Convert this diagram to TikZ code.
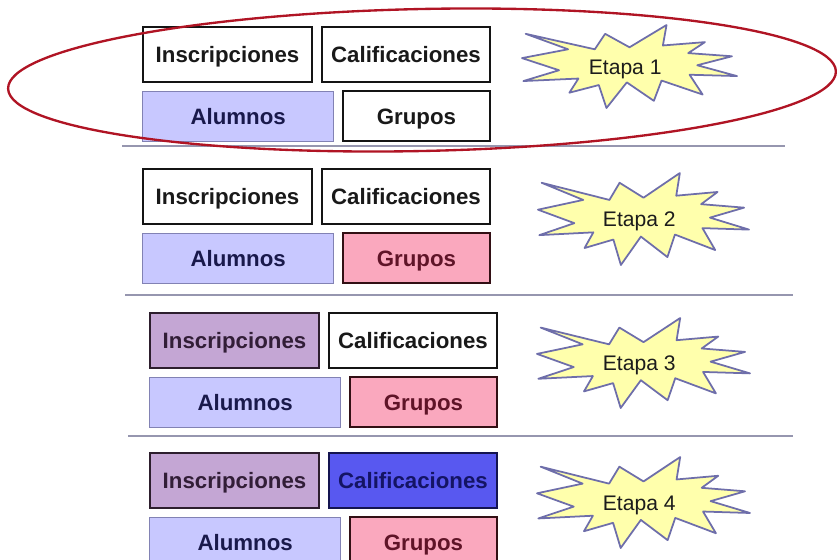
\documentclass[tikz,border=0pt]{standalone}
\usepackage{fontspec}
\setmainfont{Liberation Sans}
\usepackage{xcolor}
\usepackage{tikz}
\usetikzlibrary{positioning}
\definecolor{figink}{RGB}{28,28,28}
\definecolor{blancofill}{RGB}{255,255,255}
\definecolor{blancoline}{RGB}{20,20,20}
\definecolor{blancoink}{RGB}{25,25,25}
\definecolor{alumnofill}{RGB}{200,200,255}
\definecolor{alumnoline}{RGB}{130,130,180}
\definecolor{alumnoink}{RGB}{25,25,75}
\definecolor{grupofill}{RGB}{250,168,190}
\definecolor{grupoline}{RGB}{50,15,20}
\definecolor{grupoink}{RGB}{95,20,40}
\definecolor{inscrfill}{RGB}{196,166,212}
\definecolor{inscrline}{RGB}{45,30,45}
\definecolor{inscrink}{RGB}{50,30,55}
\definecolor{califfill}{RGB}{88,88,240}
\definecolor{califline}{RGB}{20,20,80}
\definecolor{califink}{RGB}{20,20,100}
\definecolor{starfill}{RGB}{255,255,172}
\definecolor{starline}{RGB}{110,110,170}
\definecolor{cutline}{RGB}{150,150,175}
\definecolor{ringred}{RGB}{176,20,36}

\begin{document}
\begin{tikzpicture}[
  x=0.03cm, y=-0.03cm,
  font=\fontsize{19}{22}\selectfont\bfseries,
  tabla/.style={draw=#1line, fill=#1fill, text=#1ink, line width=1.7pt,
    inner sep=0pt, text height=13.6pt, text depth=0pt},
  alta/.style={minimum height=1.65cm},
  baja/.style={minimum height=1.5cm},
  estrella/.style={draw=starline, fill=starfill, line width=1.5pt, line join=round},
  etiqueta/.style={font=\fontsize{18}{21}\selectfont\mdseries, text=figink,
    inner sep=0pt, text height=12.9pt, text depth=0pt},
  corte/.style={draw=cutline, line width=1.2pt},
  marco/.style={draw=ringred, line width=2pt},
]
  \useasboundingbox (0,0) rectangle (837,560);
  % one stage per row: tables coloured as they are migrated
  \foreach \n/\y/\dx/\ci/\cc/\cg/\sx/\sy/\sw/\sh in {
      1/26/0/blanco/blanco/blanco/522/25/215/83,
      2/168/0/blanco/blanco/grupo/538/173/211/92,
      3/312/7/inscr/blanco/grupo/537/318/213/90,
      4/452/7/inscr/calif/grupo/537/457/213/91} {
    \node[tabla=\ci, alta, minimum width=5.07cm, anchor=north west] (I\n) at ({142+\dx},\y) {Inscripciones};
    \node[tabla=\cc, alta, minimum width=5.04cm, right=0.24cm of I\n] (C\n) {Calificaciones};
    \node[tabla=alumno, baja, line width=1.1pt, minimum width=5.73cm,
      below=0.23cm of I\n.south west, anchor=north west] (A\n) {Alumnos};
    \node[tabla=\cg, baja, minimum width=4.41cm, right=0.23cm of A\n] (G\n) {Grupos};
    % explosion shape, unit box scaled to the stage
    \begin{scope}[shift={(\sx,\sy)}, x={\sw*0.03cm}, y={-\sh*0.03cm}]
      \draw[estrella] (.5000,.2685) -- (.6723,0) -- (.6553,.2465) -- (.8509,.2063)
        -- (.7732,.3387) -- (.9767,.3767) -- (.8151,.4850) -- (1,.6153)
        -- (.7795,.5992) -- (.8400,.8377) -- (.6491,.6693) -- (.6133,.9138)
        -- (.4876,.6914) -- (.3928,1) -- (.3572,.7235) -- (.2205,.8156)
        -- (.2624,.6452) -- (.0063,.6753) -- (.1723,.5451) -- (0,.3988)
        -- (.2142,.2926) -- (.0171,.1063) -- (.3385,.2926) -- (.3867,.1063) -- cycle;
      \node[etiqueta] (E\n) at (.48,.5) {Etapa \n};
    \end{scope}
  }
  \foreach \xa/\xb/\yl in {122/785/146, 125/793/295, 128/793/436} {
    \draw[corte] (\xa,\yl) -- (\xb,\yl);
  }
  % stage 1 circled
  \draw[marco] (422,80) ellipse [x radius=414, y radius=71, rotate=1.2];
\end{tikzpicture}
\end{document}
